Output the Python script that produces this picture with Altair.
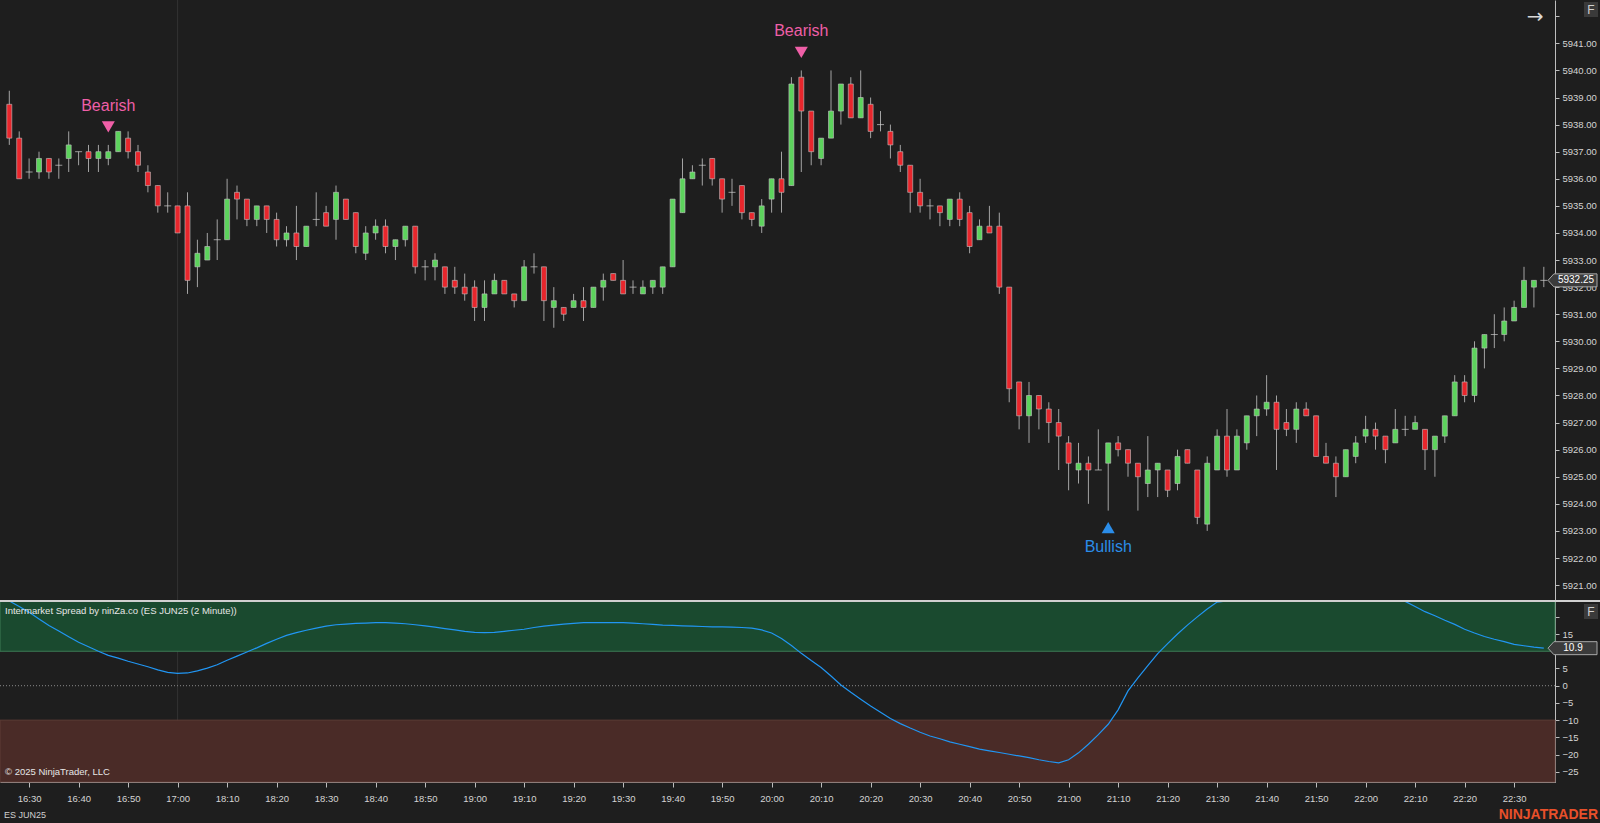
import json
import altair as alt
import pandas as pd

# ---------------- data ----------------
OPEN = [
    5938.75, 5937.5, 5936.25, 5936.25, 5936.75, 5936.5, 5936.75, 5937.0, 5937.0, 5936.75,
    5936.75, 5937.0, 5937.5, 5937.0, 5936.25, 5935.75, 5935.0, 5935.0, 5935.0, 5932.75,
    5933.0, 5933.75, 5933.75, 5935.5, 5935.25, 5934.5, 5935.0, 5934.5, 5933.75, 5934.0,
    5933.5, 5934.5, 5934.75, 5934.5, 5935.25, 5934.75, 5933.25, 5934.0, 5934.25, 5933.5,
    5933.75, 5934.25, 5932.75, 5932.75, 5932.75, 5932.25, 5932.0, 5932.0, 5931.25, 5931.75,
    5932.25, 5931.75, 5931.5, 5932.75, 5932.75, 5931.25, 5931.25, 5931.25, 5931.5, 5931.25,
    5932.0, 5932.5, 5932.25, 5932.0, 5931.75, 5932.0, 5932.0, 5932.75, 5934.75, 5936.0,
    5936.5, 5936.75, 5936.0, 5935.5, 5935.75, 5934.75, 5934.25, 5935.25, 5936.0, 5935.75,
    5939.75, 5938.5, 5936.75, 5937.5, 5938.5, 5939.5, 5938.25, 5938.75, 5938.0, 5937.75,
    5937.0, 5936.5, 5935.5, 5935.0, 5935.0, 5934.5, 5935.25, 5934.75, 5933.75, 5934.25,
    5934.25, 5932.0, 5928.5, 5927.25, 5928.0, 5927.5, 5927.0, 5926.25, 5925.25, 5925.5,
    5925.25, 5925.5, 5926.25, 5926.0, 5925.5, 5924.75, 5925.25, 5925.25, 5924.75, 5926.0,
    5925.25, 5923.25, 5925.25, 5926.5, 5925.25, 5926.25, 5927.25, 5927.5, 5927.75, 5927.0,
    5926.75, 5927.5, 5927.25, 5925.75, 5925.5, 5925.0, 5925.75, 5926.5, 5926.75, 5926.5,
    5926.25, 5926.75, 5926.75, 5926.75, 5926.0, 5926.5, 5927.25, 5928.5, 5928.0, 5929.75,
    5930.25, 5930.25, 5930.75, 5931.25, 5932.0, 5932.25,
]
HIGH = [
    5939.25, 5937.75, 5936.75, 5937.0, 5936.75, 5936.75, 5937.75, 5937.0, 5937.25, 5937.25,
    5937.25, 5937.75, 5937.75, 5937.25, 5936.5, 5935.75, 5935.5, 5935.0, 5935.5, 5933.75,
    5934.0, 5934.5, 5936.0, 5935.75, 5935.25, 5935.0, 5935.0, 5934.75, 5934.25, 5935.0,
    5934.25, 5935.5, 5935.0, 5935.75, 5935.25, 5934.75, 5934.25, 5934.5, 5934.5, 5933.75,
    5934.25, 5934.25, 5933.0, 5933.25, 5932.75, 5932.75, 5932.5, 5932.25, 5932.25, 5932.5,
    5932.25, 5931.75, 5933.0, 5933.25, 5932.75, 5932.0, 5931.25, 5931.75, 5932.0, 5932.0,
    5932.5, 5932.5, 5933.0, 5932.25, 5932.25, 5932.25, 5932.75, 5935.25, 5936.75, 5936.5,
    5936.75, 5936.75, 5936.0, 5936.0, 5935.75, 5934.75, 5935.25, 5936.0, 5937.0, 5939.75,
    5940.0, 5938.5, 5937.5, 5940.0, 5939.5, 5939.75, 5940.0, 5939.0, 5938.5, 5938.0,
    5937.25, 5936.5, 5936.0, 5935.25, 5935.0, 5935.25, 5935.5, 5935.0, 5934.5, 5935.0,
    5934.75, 5932.0, 5928.5, 5928.5, 5928.0, 5927.75, 5927.5, 5926.5, 5926.25, 5925.75,
    5926.75, 5926.25, 5926.5, 5926.0, 5925.5, 5926.5, 5925.5, 5925.25, 5926.0, 5926.0,
    5925.25, 5925.75, 5926.75, 5927.5, 5926.75, 5927.25, 5928.0, 5928.75, 5928.0, 5927.5,
    5927.75, 5927.75, 5927.25, 5926.25, 5925.75, 5926.0, 5926.5, 5927.25, 5927.0, 5926.5,
    5927.5, 5927.25, 5927.25, 5926.75, 5926.5, 5927.25, 5928.75, 5928.75, 5930.0, 5930.25,
    5931.0, 5931.25, 5931.5, 5932.75, 5932.25, 5932.75,
]
LOW = [
    5937.25, 5936.0, 5936.0, 5936.0, 5936.0, 5936.0, 5936.25, 5936.5, 5936.25, 5936.25,
    5936.5, 5937.0, 5936.75, 5936.25, 5935.5, 5934.75, 5934.75, 5934.0, 5931.75, 5932.0,
    5933.0, 5933.0, 5933.75, 5934.5, 5934.25, 5934.25, 5934.0, 5933.5, 5933.5, 5933.0,
    5933.5, 5934.25, 5934.25, 5933.75, 5934.5, 5933.25, 5933.0, 5933.75, 5933.25, 5933.0,
    5933.5, 5932.5, 5932.25, 5932.25, 5931.75, 5931.75, 5931.5, 5930.75, 5930.75, 5931.75,
    5931.75, 5931.25, 5931.5, 5932.5, 5930.75, 5930.5, 5930.75, 5931.25, 5930.75, 5931.25,
    5931.5, 5932.25, 5931.75, 5931.75, 5931.75, 5931.75, 5931.75, 5932.75, 5934.75, 5936.0,
    5935.75, 5935.75, 5934.75, 5935.0, 5934.5, 5934.25, 5934.0, 5934.75, 5934.75, 5935.75,
    5936.25, 5936.5, 5936.5, 5937.5, 5938.0, 5938.25, 5938.25, 5937.5, 5937.75, 5936.75,
    5936.25, 5934.75, 5934.75, 5934.5, 5934.25, 5934.25, 5934.25, 5933.25, 5933.75, 5934.0,
    5931.75, 5927.75, 5926.75, 5926.25, 5926.75, 5926.25, 5925.25, 5924.5, 5924.75, 5924.0,
    5925.25, 5923.75, 5925.75, 5925.0, 5923.75, 5924.25, 5924.25, 5924.25, 5924.5, 5925.5,
    5923.25, 5923.0, 5925.25, 5925.0, 5925.25, 5926.0, 5926.5, 5927.25, 5925.25, 5926.5,
    5926.25, 5927.25, 5925.75, 5925.5, 5924.25, 5925.0, 5925.5, 5926.25, 5926.0, 5925.5,
    5926.25, 5926.5, 5926.75, 5925.25, 5925.0, 5926.25, 5927.25, 5927.75, 5927.75, 5929.0,
    5929.75, 5930.0, 5930.75, 5931.25, 5931.25, 5932.0,
]
CLOSE = [
    5937.5, 5936.0, 5936.25, 5936.75, 5936.25, 5936.5, 5937.25, 5937.0, 5936.75, 5937.0,
    5937.0, 5937.75, 5937.0, 5936.5, 5935.75, 5935.0, 5935.0, 5934.0, 5932.25, 5933.25,
    5933.5, 5933.75, 5935.25, 5935.25, 5934.5, 5935.0, 5934.5, 5933.75, 5934.0, 5933.5,
    5934.25, 5934.5, 5934.25, 5935.5, 5934.5, 5933.5, 5934.0, 5934.25, 5933.5, 5933.75,
    5934.25, 5932.75, 5932.75, 5933.0, 5932.0, 5932.0, 5931.75, 5931.25, 5931.75, 5932.25,
    5931.75, 5931.5, 5932.75, 5932.75, 5931.5, 5931.5, 5931.0, 5931.5, 5931.25, 5932.0,
    5932.25, 5932.25, 5931.75, 5932.0, 5932.0, 5932.25, 5932.75, 5935.25, 5936.0, 5936.25,
    5936.5, 5936.0, 5935.25, 5935.5, 5934.75, 5934.5, 5935.0, 5936.0, 5935.5, 5939.5,
    5938.5, 5937.0, 5937.5, 5938.5, 5939.5, 5938.25, 5939.0, 5937.75, 5938.0, 5937.25,
    5936.5, 5935.5, 5935.0, 5935.0, 5934.75, 5935.25, 5934.5, 5933.5, 5934.25, 5934.0,
    5932.0, 5928.25, 5927.25, 5928.0, 5927.5, 5927.0, 5926.5, 5925.5, 5925.5, 5925.25,
    5925.25, 5926.25, 5926.0, 5925.5, 5925.0, 5925.25, 5925.5, 5924.5, 5925.75, 5925.5,
    5923.5, 5925.5, 5926.5, 5925.25, 5926.5, 5927.25, 5927.5, 5927.75, 5926.75, 5926.75,
    5927.5, 5927.25, 5925.75, 5925.5, 5925.0, 5926.0, 5926.25, 5926.75, 5926.5, 5926.0,
    5926.75, 5926.75, 5927.0, 5926.0, 5926.5, 5927.25, 5928.5, 5928.0, 5929.75, 5930.25,
    5930.25, 5930.75, 5931.25, 5932.25, 5932.25, 5932.25,
]
SPREAD = [
    25.5, 23.0, 21.3, 19.4, 17.5, 15.9, 14.2, 12.6, 11.3, 10.0,
    8.8, 8.0, 7.1, 6.3, 5.5, 4.6, 3.9, 3.6, 3.7, 4.3,
    5.1, 6.1, 7.4, 8.6, 9.8, 11.0, 12.3, 13.5, 14.6, 15.4,
    16.1, 16.7, 17.3, 17.7, 17.9, 18.1, 18.2, 18.3, 18.3, 18.2,
    18.0, 17.7, 17.4, 17.0, 16.6, 16.2, 15.8, 15.5, 15.4, 15.5,
    15.8, 16.1, 16.4, 16.9, 17.3, 17.6, 17.9, 18.1, 18.3, 18.3,
    18.3, 18.3, 18.3, 18.2, 18.0, 17.8, 17.6, 17.5, 17.4, 17.3,
    17.2, 17.1, 17.1, 17.0, 16.9, 16.7, 16.2, 15.3, 13.7, 11.7,
    9.4, 7.3, 5.3, 2.8, 0.2, -1.9, -3.9, -5.9, -7.7, -9.5,
    -11.0, -12.3, -13.5, -14.6, -15.4, -16.3, -17.0, -17.7, -18.4, -18.9,
    -19.4, -19.9, -20.4, -20.9, -21.5, -22.0, -22.4, -21.5, -19.5, -17.0,
    -14.2, -11.2, -7.0, -1.5, 2.3, 5.8, 9.3, 12.2, 15.0, 17.6,
    20.0, 22.3, 24.3, 26.0, 27.6, 29.0, 30.2, 31.2, 31.9, 32.3,
    32.4, 32.3, 32.0, 31.6, 31.0, 30.2, 29.4, 28.5, 27.6, 26.7,
    25.8, 24.5, 23.0, 21.5, 20.3, 19.0, 17.8, 16.4, 15.3, 14.3,
    13.5, 12.8, 12.0, 11.6, 11.2, 10.9,
]
TICK_BARS = [2, 7, 12, 17, 22, 27, 32, 37, 42, 47, 52, 57, 62, 67, 72, 77, 82, 87, 92,
             97, 102, 107, 112, 117, 122, 127, 132, 137, 142, 147, 152]
TICK_LABELS = ["16:30", "16:40", "16:50", "17:00", "18:10", "18:20", "18:30", "18:40",
               "18:50", "19:00", "19:10", "19:20", "19:30", "19:40", "19:50", "20:00",
               "20:10", "20:20", "20:30", "20:40", "20:50", "21:00", "21:10", "21:20",
               "21:30", "21:40", "21:50", "22:00", "22:10", "22:20", "22:30"]
PRICE_TICKS = [5921.0, 5922.0, 5923.0, 5924.0, 5925.0, 5926.0, 5927.0, 5928.0, 5929.0,
               5930.0, 5931.0, 5932.0, 5933.0, 5934.0, 5935.0, 5936.0, 5937.0, 5938.0,
               5939.0, 5940.0, 5941.0, 5942.0]
SPREAD_TICKS = [20, 15, 10, 5, 0, -5, -10, -15, -20, -25]
SESSION_BREAK_BAR = [17]
SIGNAL_BARS = [10, 80, 111]
SIGNAL_TEXT = ["Bearish", "Bearish", "Bullish"]
ZONE_UPPER = 10
ZONE_LOWER = -10

# ---------------- layout / style ----------------
W, H = 1555, 782
PRICE_RANGE = [600, 0]
SPREAD_RANGE = [782, 601]
P_MIN, P_MAX = 5920.45, 5942.6
S_MIN, S_MAX = -27.96, 24.6
X_MIN, X_MAX = -0.94, 156.13
BG = "#1e1e1e"
UP = "#5cd35c"
DOWN = "#e8262c"
PINK = "#ef5fa7"
BLUE = "#2b8de8"
AXIS_C = "#bdbdbd"
LABEL_C = "#d4d4d4"
FONT = "Liberation Sans, Arial, sans-serif"
FS = 9.5

n = len(CLOSE)
df = pd.DataFrame({
    "i": list(range(n)), "o": OPEN, "h": HIGH, "l": LOW, "c": CLOSE, "s": SPREAD,
})
df["top"] = df[["o", "c"]].max(axis=1)
df["bot"] = df[["o", "c"]].min(axis=1)

sig = pd.DataFrame({"i": SIGNAL_BARS, "kind": SIGNAL_TEXT})
sig["h"] = [HIGH[b] for b in SIGNAL_BARS]
sig["l"] = [LOW[b] for b in SIGNAL_BARS]
bear = sig[sig.kind == "Bearish"]
bull = sig[sig.kind == "Bullish"]

last = pd.DataFrame({"c": [CLOSE[-1]], "s": [SPREAD[-1]],
                     "pl": [f"{CLOSE[-1]:.2f}"], "sl": [f"{SPREAD[-1]:.1f}"]})

label_expr = "{}[indexof({}, datum.value)]".format(json.dumps(TICK_LABELS), json.dumps(TICK_BARS))
XAXIS = alt.Axis(values=TICK_BARS, labelExpr=label_expr, title=None, grid=False,
                 tickSize=5, tickColor=AXIS_C, domainColor=AXIS_C, labelColor=LABEL_C,
                 labelFont=FONT, labelFontSize=FS, labelPadding=6, labelFlush=False,
                 labelOverlap=False)
XSCALE = alt.Scale(domain=[X_MIN, X_MAX], nice=False, zero=False, padding=0)


def X(field="i"):
    return alt.X(f"{field}:Q", scale=XSCALE, axis=XAXIS)


PSCALE = alt.Scale(domain=[P_MIN, P_MAX], range=PRICE_RANGE, nice=False, zero=False, padding=0)
PAXIS = alt.Axis(orient="right", values=PRICE_TICKS, title=None, grid=False,
                 labelExpr="datum.value > 5941.5 ? '' : format(datum.value, '.2f')",
                 tickSize=4, tickColor=AXIS_C, domainColor=AXIS_C, labelColor=LABEL_C,
                 labelFont=FONT, labelFontSize=FS, labelPadding=3, labelFlush=False,
                 labelOverlap=False, labelBaseline="middle")


def PY(field):
    return alt.Y(f"{field}:Q", scale=PSCALE, axis=PAXIS)


SSCALE = alt.Scale(domain=[S_MIN, S_MAX], range=SPREAD_RANGE, nice=False, zero=False,
                   clamp=True, padding=0)
SAXIS = alt.Axis(orient="right", values=SPREAD_TICKS, title=None, grid=False,
                 labelExpr="(datum.value == 20 || datum.value == 10) ? '' : format(datum.value, 'd')",
                 tickSize=4, tickColor=AXIS_C, domainColor=AXIS_C, labelColor=LABEL_C,
                 labelFont=FONT, labelFontSize=FS, labelPadding=3, labelFlush=False,
                 labelOverlap=False, labelBaseline="middle")


def SY(field):
    return alt.Y(f"{field}:Q", scale=SSCALE, axis=SAXIS)


base = alt.Chart(df)

session = alt.Chart(pd.DataFrame({"i": SESSION_BREAK_BAR})).mark_rule(
    color="#333333", strokeWidth=1).encode(x=X())

wicks = base.mark_rule(color="#a3a3a3", strokeWidth=1).encode(x=X(), y=PY("l"), y2="h")
bodies = base.transform_filter("datum.o != datum.c").mark_bar(
    size=5, stroke="#c4c4c4", strokeWidth=0.6).encode(
    x=X(), y=PY("bot"), y2="top",
    color=alt.condition("datum.c > datum.o", alt.value(UP), alt.value(DOWN)))
dojis = base.transform_filter("datum.o == datum.c").mark_tick(
    orient="horizontal", size=7, thickness=1, color="#cfcfcf").encode(x=X(), y=PY("c"))

bear_tri = alt.Chart(bear).mark_point(shape="triangle-down", filled=True, size=170,
                                      color=PINK, opacity=1, yOffset=-18).encode(x=X(), y=PY("h"))
bear_txt = alt.Chart(bear).mark_text(fontSize=16, color=PINK, yOffset=-39,
                                     font=FONT).encode(x=X(), y=PY("h"), text="kind:N")
bull_tri = alt.Chart(bull).mark_point(shape="triangle-up", filled=True, size=170,
                                      color=BLUE, opacity=1, yOffset=17).encode(x=X(), y=PY("l"))
bull_txt = alt.Chart(bull).mark_text(fontSize=16, color=BLUE, yOffset=36,
                                     font=FONT).encode(x=X(), y=PY("l"), text="kind:N")

BOX_PATH = "M -1 0 L -0.76 -0.265 L 1 -0.265 L 1 0.265 L -0.76 0.265 Z"
price_box = alt.Chart(last).mark_point(shape=BOX_PATH, size=2401, filled=True,
                                       fill="#3b3b3b", stroke="#a8a8a8", strokeWidth=1,
                                       opacity=1).encode(x=alt.value(1572.5), y=PY("c"))
price_lbl = alt.Chart(last).mark_text(color="#ffffff", fontSize=10, font=FONT,
                                      align="center").encode(
    x=alt.value(1576), y=PY("c"), text="pl:N")

price_layer = alt.layer(session, wicks, bodies, dojis, bear_tri, bear_txt,
                        bull_tri, bull_txt, price_box, price_lbl)

zones = pd.DataFrame({"lo": [ZONE_UPPER, S_MIN], "hi": [S_MAX, ZONE_LOWER],
                      "zone": ["upper", "lower"]})
zone_rect = alt.Chart(zones).mark_rect().encode(
    y=SY("lo"), y2="hi",
    color=alt.condition("datum.zone == 'upper'", alt.value("#1a4a2f"), alt.value("#4a2b27")),
    stroke=alt.condition("datum.zone == 'upper'", alt.value("#3d7a55"), alt.value("#5e3c36")))
zero_rule = alt.Chart(pd.DataFrame({"v": [0]})).mark_rule(
    color="#8a8a8a", strokeDash=[1, 2], strokeWidth=1).encode(y=SY("v"))
spread_line = base.mark_line(color="#2196f3", strokeWidth=1.2).encode(x=X(), y=SY("s"))
sep = alt.Chart(pd.DataFrame({"v": [S_MAX]})).mark_rule(color="#d0d0d0", strokeWidth=2).encode(
    y=SY("v"), x=alt.value(0), x2=alt.value(1600))
spread_box = alt.Chart(last).mark_point(shape=BOX_PATH, size=2401, filled=True,
                                        fill="#3b3b3b", stroke="#a8a8a8", strokeWidth=1,
                                        opacity=1).encode(x=alt.value(1572.5), y=SY("s"))
spread_lbl = alt.Chart(last).mark_text(color="#ffffff", fontSize=10, font=FONT,
                                       align="center").encode(
    x=alt.value(1573), y=SY("s"), text="sl:N")

spread_layer = alt.layer(zone_rect, zero_rule, spread_line, sep, spread_box, spread_lbl)

one = pd.DataFrame({"a": [0]})


def note(txt, x, y, **kw):
    return alt.Chart(one).mark_text(text=txt, **kw).encode(x=alt.value(x), y=alt.value(y))


notes = [
    note("Intermarket Spread by ninZa.co (ES JUN25 (2 Minute))", 5, 611, align="left",
         baseline="middle", fontSize=9.5, color="#e6e6e6", font=FONT),
    note("© 2025 NinjaTrader, LLC", 5, 772, align="left", baseline="middle",
         fontSize=9.5, color="#e6e6e6", font=FONT),
    note("ES JUN25", 4, 815, align="left", baseline="middle", fontSize=9,
         color="#d0d0d0", font=FONT),
    note("NINJATRADER", 1598, 815, align="right", baseline="middle", fontSize=14,
         fontWeight="bold", color="#e8502a", font=FONT),
    note("→", 1535, 17, align="center", baseline="middle", fontSize=20,
         color="#d8d8d8", font="DejaVu Sans, sans-serif"),
]
fboxes = pd.DataFrame({"y1": [2, 604], "y2": [17, 619]})
f_rect = alt.Chart(fboxes).mark_rect(fill="#3a3a3a").encode(
    x=alt.value(1584), x2=alt.value(1598), y=alt.Y("y1:Q", scale=None), y2="y2:Q")
f_text = alt.Chart(fboxes).transform_calculate(ym="(datum.y1 + datum.y2) / 2").mark_text(
    text="F", fontSize=12, color="#cfcfcf", font=FONT,
    baseline="middle").encode(x=alt.value(1591), y=alt.Y("ym:Q", scale=None))

chart = alt.layer(price_layer, spread_layer, f_rect, f_text, *notes).resolve_scale(
    y="independent"
).properties(
    width=W, height=H,
    padding={"left": 0, "top": 0, "right": 1600 - W, "bottom": 823 - H},
    autosize=alt.AutoSizeParams(type="none"),
).configure(background=BG).configure_view(stroke=None)

chart.save("out.html", embed_options={"renderer": "svg", "actions": False})
